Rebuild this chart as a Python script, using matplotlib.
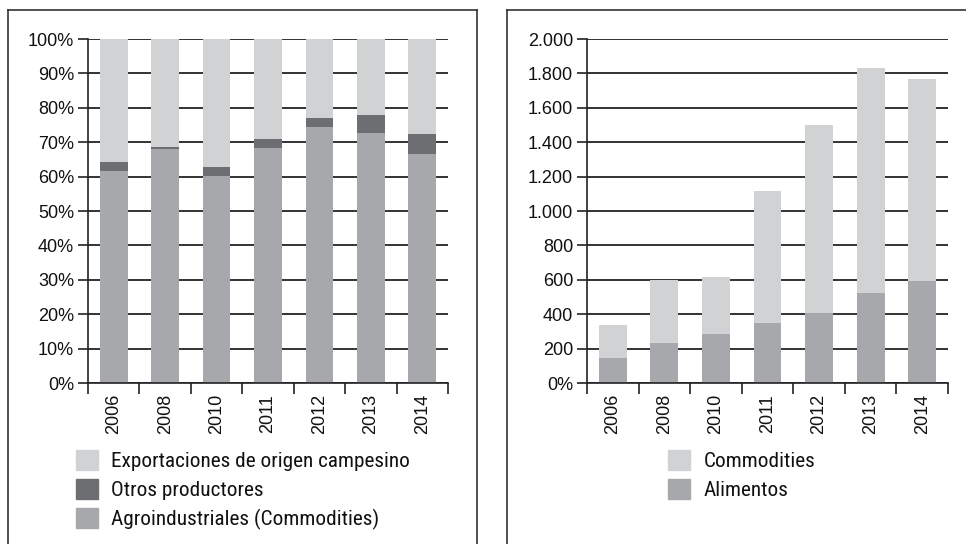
import matplotlib
matplotlib.use("Agg")
import matplotlib.pyplot as plt
from matplotlib.patches import Patch
from matplotlib.lines import Line2D
from matplotlib import font_manager

# ---------------- data ----------------
years = ["2006", "2008", "2010", "2011", "2012", "2013", "2014"]

# Left panel (%)
agroindustriales = [61.6, 68.1, 60.3, 68.4, 74.5, 72.8, 66.6]
otros_productores = [2.6, 0.5, 2.5, 2.5, 2.5, 5.1, 5.8]
campesino = [100 - a - o for a, o in zip(agroindustriales, otros_productores)]
left_ticks = [0, 10, 20, 30, 40, 50, 60, 70, 80, 90, 100]
left_ticklabels = ["0%", "10%", "20%", "30%", "40%", "50%", "60%", "70%", "80%", "90%", "100%"]
left_labels = ["Exportaciones de origen campesino", "Otros productores", "Agroindustriales (Commodities)"]

# Right panel
alimentos = [145, 233, 285, 349, 407, 523, 593]
commodities = [190, 366, 331, 767, 1093, 1308, 1174]
right_ticks = [0, 200, 400, 600, 800, 1000, 1200, 1400, 1600, 1800, 2000]
right_ticklabels = ["0%", "200", "400", "600", "800", "1.000", "1.200", "1.400", "1.600", "1.800", "2.000"]
right_labels = ["Commodities", "Alimentos"]

# ---------------- style ----------------
names = {f.name for f in font_manager.fontManager.ttflist}

def pick(cands):
    for c in cands:
        if c in names:
            return [c, "DejaVu Sans"]
    return ["DejaVu Sans"]

tick_fam = pick(["Liberation Sans", "Arimo", "DejaVu Sans"])
leg_fam = pick(["Liberation Sans Narrow", "Nimbus Sans Narrow", "Roboto Condensed",
                "Archivo Narrow", "Barlow Semi Condensed", "Liberation Sans"])
plt.rcParams["font.family"] = tick_fam
TFS = 13
LFS = 15.3

c_light = "#d1d2d4"
c_dark = "#6d6e71"
c_mid = "#a7a8ab"

W, H = 966, 544
fig = plt.figure(figsize=(W / 100, H / 100), dpi=100)

def fx(px):
    return px / W

def fy(py):
    return 1 - py / H

# panel borders
border_col = "#333333"
for xs, ys in [([8, 8], [560, 10]), ([8, 477], [10, 10]), ([477, 477], [10, 560]),
               ([507, 507], [560, 10]), ([507, 970], [10, 10])]:
    fig.add_artist(Line2D([fx(x) for x in xs], [fy(y) for y in ys], color=border_col, lw=1.2,
                          transform=fig.transFigure))

ax1 = fig.add_axes([fx(88), fy(383), fx(448) - fx(88), fy(39) - fy(383)])
ax2 = fig.add_axes([fx(587), fy(383), fx(948) - fx(587), fy(39) - fy(383)])

x = list(range(len(years)))
bw = 0.54

ax1.bar(x, agroindustriales, bw, color=c_mid, zorder=3)
ax1.bar(x, otros_productores, bw, bottom=agroindustriales, color=c_dark, zorder=3)
bot2 = [a + o for a, o in zip(agroindustriales, otros_productores)]
ax1.bar(x, campesino, bw, bottom=bot2, color=c_light, zorder=3)

ax2.bar(x, alimentos, bw, color=c_mid, zorder=3)
ax2.bar(x, commodities, bw, bottom=alimentos, color=c_light, zorder=3)

for ax, ticks, tlabels, top in [(ax1, left_ticks, left_ticklabels, 100),
                                (ax2, right_ticks, right_ticklabels, 2000)]:
    ax.set_xlim(-0.5, len(years) - 0.5)
    ax.set_ylim(0, top)
    ax.set_yticks(ticks)
    ax.set_yticklabels(tlabels, fontsize=TFS)
    ax.set_xticks(x)
    ax.set_xticklabels(years, rotation=90, fontsize=TFS)
    ax.set_xticks([i - 0.5 for i in range(len(years) + 1)], minor=True)
    ax.tick_params(axis="x", which="major", length=0, pad=8)
    ax.tick_params(axis="x", which="minor", length=8, width=1.2, direction="out", color="#222222")
    ax.tick_params(axis="y", length=7, width=1.2, direction="out", pad=3, color="#222222")
    ax.grid(axis="y", color="#111111", lw=1.2, zorder=1)
    ax.set_axisbelow(True)
    for s in ["top", "right"]:
        ax.spines[s].set_visible(False)
    for s in ["left", "bottom"]:
        ax.spines[s].set_color("#222222")
        ax.spines[s].set_linewidth(1.2)
        ax.spines[s].set_zorder(4)
    for lab in ax.get_xticklabels() + ax.get_yticklabels():
        lab.set_color("#111111")

leg_kw = dict(loc="upper left", frameon=False, borderpad=0, borderaxespad=0,
              handlelength=1.05, handleheight=1.05, handletextpad=0.62, labelspacing=0.38,
              prop={"family": leg_fam, "size": LFS})
h1 = [Patch(color=c_light), Patch(color=c_dark), Patch(color=c_mid)]
l1 = fig.legend(h1, left_labels, bbox_to_anchor=(fx(76), fy(450)), **leg_kw)
h2 = [Patch(color=c_light), Patch(color=c_mid)]
l2 = fig.legend(h2, right_labels, bbox_to_anchor=(fx(668), fy(450)), **leg_kw)
for lg in (l1, l2):
    for t in lg.get_texts():
        t.set_color("#111111")

fig.savefig("out.png", dpi=100)
